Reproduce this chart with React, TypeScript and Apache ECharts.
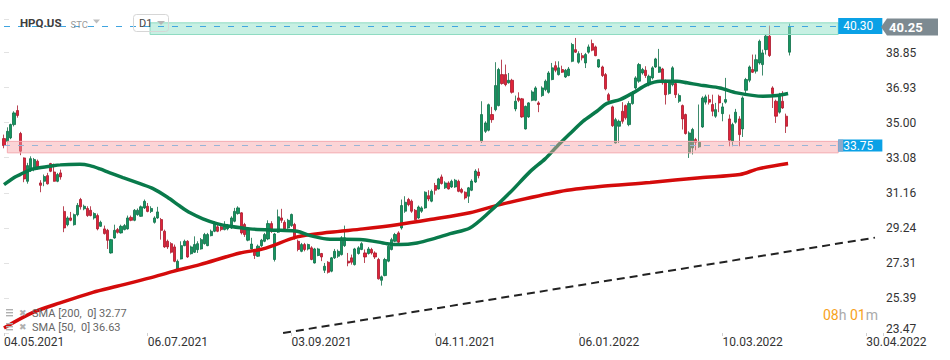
import React, { useEffect, useRef } from 'react';
import * as echarts from 'echarts';

// ---------- data ----------
const xTickLabels = ['04.05.2021', '06.07.2021', '03.09.2021', '04.11.2021', '06.01.2022', '10.03.2022', '30.04.2022'];
const yTickLabels = ['23.47', '25.39', '27.31', '29.24', '31.16', '33.08', '35.00', '36.93', '38.85'];

// daily candles: [open, close, low, high]
const candles: number[][] = [
  [34.13, 33.75, 33.6, 34.35], [33.98, 34.53, 33.9, 34.75], [34.17, 34.9, 34.1, 34.95], [34.9, 35.54, 34.8, 35.63],
  [35.67, 35.4, 35.28, 35.95], [34.41, 33.44, 33.22, 34.5], [33.07, 31.92, 31.74, 33.1], [31.79, 32.65, 31.66, 32.8],
  [32.43, 33.03, 32.3, 33.16], [32.49, 32.98, 32.34, 33.07], [32.89, 32.56, 32.43, 32.98], [31.7, 31.57, 31.19, 31.85],
  [31.79, 32.05, 31.52, 32.16], [32.1, 31.65, 31.61, 32.25], [32.76, 32.34, 32.29, 32.8], [32.3, 31.79, 31.77, 32.76],
  [31.79, 32.16, 31.74, 32.25], [32.25, 32.03, 31.88, 32.43], [30.14, 29.23, 29.0, 30.42], [29.41, 29.78, 29.32, 29.87],
  [29.78, 29.65, 29.6, 30.11], [29.41, 29.96, 29.36, 30.02], [29.96, 30.47, 29.87, 30.6], [30.79, 30.39, 30.24, 30.88],
  [30.28, 30.42, 30.2, 30.51], [30.3, 29.91, 29.84, 30.42], [30.2, 29.91, 29.87, 30.42], [29.78, 30.02, 29.69, 30.09],
  [29.91, 29.18, 29.1, 30.02], [29.32, 29.54, 29.29, 29.63], [29.18, 28.92, 28.87, 29.36], [29.1, 28.55, 28.08, 29.18],
  [27.86, 28.59, 27.82, 28.63], [28.68, 29.1, 28.64, 29.41], [29.14, 28.99, 28.92, 29.23], [28.96, 29.32, 28.92, 29.41],
  [29.14, 29.36, 29.1, 29.45], [29.18, 29.78, 29.14, 29.91], [29.81, 29.65, 29.6, 29.91], [29.65, 30.2, 29.6, 30.27],
  [29.96, 30.2, 29.9, 30.3], [29.87, 30.39, 29.84, 30.46], [30.33, 30.69, 30.27, 30.79], [30.42, 30.14, 30.09, 30.6],
  [30.14, 30.3, 30.05, 30.42], [29.54, 29.78, 29.47, 29.87], [29.78, 30.11, 29.73, 30.39], [29.69, 29.1, 28.59, 29.78],
  [29.05, 28.19, 28.14, 29.14], [28.5, 28.19, 28.08, 28.59], [28.37, 27.9, 27.83, 28.45], [28.19, 27.4, 27.35, 28.32],
  [26.98, 27.4, 26.95, 27.5], [27.53, 28.26, 27.5, 28.5], [28.26, 28.5, 28.23, 28.59], [28.5, 27.64, 27.59, 28.56],
  [27.82, 28.19, 27.77, 28.26], [27.9, 28.32, 27.86, 28.77], [28.04, 28.37, 27.86, 28.5], [28.08, 28.59, 28.04, 28.68],
  [28.37, 28.87, 28.32, 28.96], [28.26, 28.87, 28.23, 28.96], [28.81, 29.05, 28.77, 29.14], [29.05, 29.51, 29.0, 29.6],
  [29.29, 29.05, 29.0, 29.42], [29.29, 29.14, 29.05, 29.36], [29.14, 29.41, 29.1, 29.6], [29.18, 29.36, 29.1, 29.45],
  [29.23, 29.78, 29.18, 29.87], [29.6, 30.14, 29.54, 30.33], [30.02, 30.33, 29.96, 30.42], [30.06, 28.96, 28.87, 30.09],
  [29.42, 28.87, 28.74, 29.51], [28.56, 29.14, 28.5, 29.23], [28.08, 28.35, 28.05, 28.69], [27.9, 27.72, 27.53, 28.05],
  [27.68, 28.23, 27.64, 28.32], [28.26, 28.56, 28.19, 28.63], [28.5, 28.87, 28.45, 28.96], [28.63, 29.47, 28.56, 29.65],
  [29.47, 29.05, 28.96, 29.6], [27.5, 28.9, 27.39, 28.96], [29.0, 29.84, 28.96, 30.24], [29.78, 29.65, 29.51, 30.28],
  [29.54, 29.18, 29.1, 29.65], [29.23, 29.65, 29.18, 29.73], [29.36, 29.97, 29.29, 30.02], [29.42, 28.69, 28.59, 29.51],
  [28.5, 28.05, 27.95, 28.59], [27.95, 28.32, 27.9, 28.41], [28.32, 28.05, 27.95, 28.41], [28.08, 28.32, 28.0, 28.37],
  [28.14, 27.5, 27.46, 28.23], [27.31, 28.08, 27.28, 28.14], [27.72, 28.08, 27.68, 28.14], [27.83, 27.64, 27.41, 27.86],
  [26.91, 27.13, 26.76, 27.31], [27.35, 26.8, 26.73, 27.41], [26.86, 27.59, 26.8, 27.64], [27.59, 27.95, 27.53, 28.08],
  [27.68, 27.95, 27.59, 28.05], [27.77, 28.69, 27.72, 28.78], [28.26, 28.69, 28.19, 29.36], [27.41, 27.31, 27.13, 27.86],
  [27.59, 27.35, 27.22, 27.77], [27.22, 28.08, 27.17, 28.14], [27.83, 28.14, 27.77, 28.23], [28.05, 28.37, 28.01, 28.45],
  [27.86, 27.64, 27.31, 28.05], [27.83, 28.08, 27.77, 28.19], [28.05, 27.86, 27.77, 28.14], [27.86, 27.64, 27.53, 27.95],
  [27.5, 26.44, 26.4, 27.59], [26.36, 26.55, 26.07, 26.62], [26.62, 27.5, 26.58, 27.59], [27.41, 28.23, 27.35, 28.32],
  [28.05, 28.59, 28.0, 28.69], [28.5, 28.87, 28.45, 28.96], [28.96, 28.45, 28.37, 29.05], [29.23, 30.46, 29.14, 30.79],
  [30.15, 30.64, 30.06, 30.97], [30.79, 30.51, 30.42, 30.88], [30.7, 30.15, 30.06, 30.79], [30.2, 29.69, 29.65, 30.27],
  [29.78, 30.38, 29.73, 30.46], [30.15, 30.33, 30.06, 30.42], [30.33, 31.19, 30.28, 31.24], [31.0, 30.82, 30.7, 31.3],
  [30.7, 31.24, 30.64, 31.34], [31.56, 31.3, 31.06, 31.7], [31.37, 31.92, 31.34, 31.98], [32.03, 31.67, 31.61, 32.16],
  [31.43, 31.7, 31.37, 31.79], [31.7, 31.37, 31.34, 31.79], [31.48, 31.79, 31.43, 31.88], [31.48, 31.85, 31.43, 31.92],
  [31.79, 31.24, 31.19, 31.88], [31.34, 31.19, 31.12, 31.43], [31.19, 30.88, 30.79, 31.24], [30.97, 31.43, 30.6, 31.48],
  [31.3, 31.8, 31.25, 31.9], [31.75, 32.35, 31.7, 32.45], [32.3, 32.1, 31.95, 32.5], [33.99, 35.45, 33.89, 36.18],
  [34.53, 34.99, 34.44, 35.08], [34.59, 35.99, 34.53, 36.05], [35.45, 35.17, 35.0, 35.87], [35.72, 37.04, 35.63, 38.32],
  [35.94, 37.92, 35.9, 38.01], [37.64, 37.15, 37.09, 38.46], [37.64, 37.09, 37.0, 38.19], [37.19, 37.33, 37.15, 37.73],
  [37.33, 36.67, 36.6, 37.41], [35.76, 36.18, 35.63, 36.49], [36.36, 36.23, 36.13, 36.67], [36.31, 35.32, 35.27, 36.36],
  [34.66, 35.9, 34.63, 35.94], [35.32, 36.09, 35.27, 36.13], [36.23, 36.69, 36.18, 36.78], [36.23, 36.91, 36.18, 37.0],
  [36.09, 36.0, 35.58, 36.18], [36.49, 36.91, 36.42, 37.0], [36.82, 37.28, 36.73, 37.37], [36.67, 37.73, 36.6, 37.83],
  [37.37, 38.01, 37.33, 38.28], [38.13, 37.88, 37.77, 38.37], [37.64, 38.01, 37.59, 38.37], [37.92, 37.77, 37.73, 38.13],
  [37.51, 37.88, 37.46, 37.95], [37.59, 37.95, 37.55, 38.06], [38.37, 39.29, 38.32, 39.38], [39.01, 38.87, 38.83, 39.65],
  [38.32, 38.79, 38.24, 38.92], [38.68, 38.56, 38.42, 38.83], [38.28, 38.74, 38.0, 38.83], [38.87, 39.16, 38.79, 39.29],
  [39.34, 38.98, 38.92, 39.56], [39.16, 38.68, 38.65, 39.23], [38.06, 38.46, 38.01, 38.5], [38.06, 37.59, 37.51, 38.13],
  [37.64, 36.86, 36.78, 37.73], [36.54, 36.23, 36.09, 36.64], [35.87, 34.84, 34.77, 35.94], [33.89, 35.17, 33.86, 35.27],
  [34.81, 35.08, 33.89, 35.17], [35.63, 35.08, 34.95, 36.13], [35.94, 35.27, 35.17, 36.0], [34.9, 36.05, 34.81, 36.18],
  [36.05, 36.64, 35.99, 36.73], [36.91, 37.46, 36.82, 37.55], [37.28, 38.19, 37.19, 38.28], [37.73, 37.92, 37.64, 38.01],
  [37.88, 37.59, 37.46, 38.1], [37.09, 37.55, 37.0, 37.64], [37.46, 38.01, 37.37, 38.1], [38.06, 38.5, 38.01, 38.56],
  [37.77, 38.06, 37.73, 39.05], [37.95, 37.19, 37.09, 38.01], [37.19, 36.54, 36.0, 37.37], [36.6, 37.19, 36.54, 37.28],
  [37.09, 38.01, 37.0, 38.1], [37.15, 36.54, 36.36, 37.28], [36.18, 36.49, 36.09, 36.6], [35.94, 35.21, 34.63, 36.0],
  [35.45, 34.41, 34.35, 35.5], [33.35, 34.44, 33.07, 34.53], [33.62, 34.63, 33.26, 34.72], [34.08, 33.93, 33.49, 34.17],
  [33.68, 33.93, 33.62, 36.0], [34.77, 36.36, 34.72, 36.45], [36.13, 36.42, 36.0, 36.54], [36.27, 36.13, 36.0, 36.54],
  [36.0, 35.63, 35.36, 36.54], [35.36, 35.72, 35.27, 36.09], [36.45, 36.09, 35.58, 36.54], [35.5, 35.87, 35.08, 36.09],
  [36.13, 36.27, 36.05, 37.46], [35.21, 34.04, 33.71, 35.45], [33.99, 34.9, 33.71, 35.0], [35.03, 35.58, 34.95, 35.76],
  [35.21, 34.35, 33.71, 35.36], [34.66, 36.36, 34.22, 36.45], [36.78, 37.37, 36.49, 37.46], [37.33, 38.06, 37.22, 38.14],
  [37.92, 37.77, 37.73, 38.74], [37.83, 38.46, 37.7, 38.74], [38.28, 39.47, 38.19, 39.56], [38.19, 38.83, 37.59, 39.01],
  [39.01, 39.75, 38.74, 39.84], [39.75, 38.69, 38.61, 40.33], [36.91, 36.6, 35.81, 37.0], [36.18, 35.36, 34.99, 36.27],
  [35.58, 36.45, 35.5, 36.64], [36.18, 35.81, 35.76, 36.73], [35.36, 34.81, 34.44, 35.5], [38.87, 40.25, 38.69, 40.44],
];

// moving averages: [bar index, value]
const sma50: number[][] = [
  [0, 31.61], [3.3, 32.03], [4.8, 32.16], [8.7, 32.47], [13.8, 32.61], [16.8, 32.69], [22.7, 32.72], [25.7, 32.65],
  [28.7, 32.47], [31.7, 32.25], [35.6, 31.99], [40.7, 31.66], [44.6, 31.39], [48.8, 30.93], [52.7, 30.42], [55.7, 30.06],
  [59.5, 29.73], [63.7, 29.47], [67.6, 29.32], [73.6, 29.18], [82.6, 29.1], [87.7, 29.05], [91.6, 28.81], [96.6, 28.63],
  [107.4, 28.59], [114.6, 28.37], [118.5, 28.32], [123.6, 28.41], [128.4, 28.63], [133.5, 28.92], [139.4, 29.23],
  [145.4, 30.13], [151.4, 31.17], [157.4, 32.32], [161.9, 33.02], [165.5, 33.71], [169.4, 34.41], [173.2, 35.08],
  [177.4, 35.63], [180.3, 36.05], [184.3, 36.27], [188.2, 36.64], [192.4, 37.09], [196.3, 37.28], [201.4, 37.28],
  [204.4, 37.19], [209.2, 37.04], [214.2, 36.91], [219.3, 36.64], [227.1, 36.45], [231.3, 36.49], [234.6, 36.6],
];
const sma200: number[][] = [
  [0, 23.75], [8.7, 24.6], [16.8, 25.12], [26.6, 25.7], [33.8, 26.03], [43.7, 26.49], [50.6, 26.85], [58.6, 27.22],
  [70.6, 27.86], [77.5, 28.08], [87.7, 28.74], [97.5, 28.99], [107.4, 29.18], [117.6, 29.41], [127.5, 29.69],
  [139.4, 30.06], [148.4, 30.51], [166.4, 31.23], [178.3, 31.5], [193.3, 31.72], [208.3, 31.99], [220.2, 32.16],
  [225.6, 32.47], [234.6, 32.76],
];
const trendLine: number[][] = [[83.5, 23.47], [260.6, 28.7]];

const resistanceLevel = 40.3;
const resistanceBand = [39.84, 40.48];
const supportLevel = 33.75;
const supportBand = [33.35, 33.98];
const lastPrice = 40.25;
const legendTexts = ['SMA [200,\u00a0 0] 32.77', 'SMA [50,\u00a0 0] 36.63'];

// ---------- axis setup ----------
const Y_MIN = 23.47;
const Y_MAX = 40.69;
const Y_STEP = (38.85 - 23.47) / 8;
const X_STEP = 43;
const X_MAX = 263;
const LEVEL_START = 0;
const LEVEL_END = 249.6;
const RES_BAND_START = 43.7;
const SUP_BAND_START = 1.0;

export default function App() {
  const ref = useRef<HTMLDivElement>(null);

  useEffect(() => {
    if (!ref.current) return;
    const chart = echarts.init(ref.current, undefined, { renderer: 'svg' });
    const candleData = candles.map((c, i) => [i, c[0], c[1], c[2], c[3]]);

    const option: any = {
      animation: false,
      backgroundColor: '#ffffff',
      textStyle: { fontFamily: 'Roboto' },
      grid: { left: 4, right: 67, top: 19, bottom: 27 },
      xAxis: {
        type: 'value',
        min: 0,
        max: X_MAX,
        interval: X_STEP,
        axisLine: { show: false },
        axisTick: { show: true, length: 3, lineStyle: { color: '#cfcfcf' } },
        splitLine: { show: false },
        axisLabel: {
          align: 'left',
          margin: 3,
          color: '#333',
          fontSize: 12,
          formatter: (v: number) => {
            const k = v / X_STEP;
            const r = Math.round(k);
            if (Math.abs(k - r) > 0.01 || r < 0 || r >= xTickLabels.length) return '';
            return xTickLabels[r];
          },
        },
      },
      yAxis: {
        type: 'value',
        position: 'right',
        min: Y_MIN,
        max: Y_MAX,
        interval: Y_STEP,
        axisLine: { show: false },
        axisTick: { show: true, length: 5, lineStyle: { color: '#e2e2e2' } },
        splitLine: { show: false },
        axisLabel: {
          margin: 3,
          color: '#333',
          fontSize: 12,
          formatter: (v: number) => {
            const k = (v - Y_MIN) / Y_STEP;
            const r = Math.round(k);
            if (Math.abs(k - r) > 0.02 || r < 0 || r >= yTickLabels.length) return '';
            return r === 0 ? '{b|' + yTickLabels[0] + '}' : yTickLabels[r];
          },
          rich: { b: { color: '#333', fontSize: 12, padding: [0, 0, 8, 0] } },
        },
      },
      series: [
        {
          type: 'candlestick',
          data: candleData,
          barWidth: 2.6,
          z: 2,
          itemStyle: {
            color: '#149660',
            color0: '#e02338',
            borderColor: '#0c6d46',
            borderColor0: '#a8172b',
            borderWidth: 0.8,
          },
        },
        {
          type: 'line',
          name: 'SMA200',
          data: sma200,
          smooth: 0.3,
          symbol: 'none',
          z: 3,
          lineStyle: { color: '#d40b0b', width: 3.5 },
        },
        {
          type: 'line',
          name: 'SMA50',
          data: sma50,
          smooth: 0.3,
          symbol: 'none',
          z: 3,
          lineStyle: { color: '#097a4b', width: 3.5 },
        },
        {
          type: 'line',
          name: 'trend',
          data: trendLine,
          symbol: 'none',
          z: 3,
          lineStyle: { color: '#222', width: 2, type: [8, 5] },
          markArea: {
            silent: true,
            z: 4,
            label: { show: false },
            data: [
              [
                { coord: [RES_BAND_START, resistanceBand[0]], itemStyle: { color: 'rgba(143,225,199,0.5)', borderColor: '#8edbc2', borderWidth: 1 } },
                { coord: [LEVEL_END, resistanceBand[1]] },
              ],
              [
                { coord: [SUP_BAND_START, supportBand[0]], itemStyle: { color: 'rgba(246,159,164,0.45)', borderColor: '#f4aab0', borderWidth: 1 } },
                { coord: [LEVEL_END, supportBand[1]] },
              ],
            ],
          },
          markLine: {
            silent: true,
            z: 5,
            symbol: ['none', 'none'],
            data: [
              [
                {
                  coord: [LEVEL_START, resistanceLevel],
                  lineStyle: { color: '#3fa4e0', width: 1.2, type: [6, 8] },
                  label: {
                    show: true, position: 'end', distance: 0, formatter: resistanceLevel.toFixed(2),
                    color: '#fff', backgroundColor: '#0aa1e6', fontSize: 12, lineHeight: 13, padding: [2, 9, 1, 5],
                  },
                },
                { coord: [LEVEL_END, resistanceLevel] },
              ],
              [
                {
                  coord: [LEVEL_START, supportLevel],
                  lineStyle: { color: '#98b4d6', width: 1.2, type: [6, 8] },
                  label: {
                    show: true, position: 'end', distance: 0, formatter: '{a|}{b|' + supportLevel.toFixed(2) + '}',
                    backgroundColor: '#0aa1e6', padding: 0,
                    rich: {
                      a: { width: 5, height: 12, backgroundColor: '#8ea9ca' },
                      b: { color: '#fff', fontSize: 12, lineHeight: 12, padding: [0, 9, 0, 0] },
                    },
                  },
                },
                { coord: [LEVEL_END, supportLevel] },
              ],
            ],
          },
        },
      ],
    };

    chart.setOption(option);
    const py = chart.convertToPixel({ yAxisIndex: 0 }, lastPrice) as unknown as number;

    const legendRow = (y: number, text: string) => [
      { type: 'rect', z: 100, shape: { x: 6, y: y - 4, width: 7, height: 1.4 }, style: { fill: '#b0b0b0' } },
      { type: 'rect', z: 100, shape: { x: 6, y: y - 1, width: 7, height: 1.4 }, style: { fill: '#b0b0b0' } },
      { type: 'rect', z: 100, shape: { x: 6, y: y + 2, width: 7, height: 1.4 }, style: { fill: '#b0b0b0' } },
      { type: 'text', z: 100, x: 19, y, style: { text: '\u2716', fill: '#b0b0b0', font: '9px "DejaVu Sans"', verticalAlign: 'middle' } },
      { type: 'text', z: 100, x: 32, y, style: { text, fill: '#666', font: '11px Roboto', verticalAlign: 'middle' } },
    ];

    chart.setOption({
      graphic: [
        { type: 'text', z: 100, x: 20, y: 23, style: { text: 'HPQ.US', fill: '#3d3d3d', font: 'bold 11.5px Roboto', verticalAlign: 'middle' } },
        { type: 'text', z: 100, x: 70.5, y: 24.5, style: { text: 'STC', fill: '#9a9a9a', font: '9.5px Roboto', verticalAlign: 'middle' } },
        { type: 'polygon', z: 100, shape: { points: [[93, 19.5], [100, 19.5], [96.5, 23.5]] }, style: { fill: '#bdbdbd' } },
        { type: 'rect', z: 100, shape: { x: 133.5, y: 14.5, width: 35, height: 17, r: 3 }, style: { fill: 'none', stroke: '#d6d6d6', lineWidth: 1 } },
        { type: 'text', z: 100, x: 139, y: 23.5, style: { text: 'D1', fill: '#444', font: '11px Roboto', verticalAlign: 'middle' } },
        { type: 'polygon', z: 100, shape: { points: [[157, 21], [165, 21], [161, 25]] }, style: { fill: '#b5b5b5' } },
        { type: 'polygon', z: 100, shape: { points: [[881, py], [887, py - 8.5], [938, py - 8.5], [938, py + 8.5], [887, py + 8.5]] }, style: { fill: '#7d8a91' } },
        { type: 'text', z: 101, x: 889, y: py + 0.5, style: { text: lastPrice.toFixed(2), fill: '#fff', font: 'bold 13px Roboto', verticalAlign: 'middle' } },
        ...legendRow(313, legendTexts[0]),
        ...legendRow(327, legendTexts[1]),
        {
          type: 'text', z: 100, x: 823, y: 315,
          style: {
            text: '{o|08}{g|h} {o|01}{g|m}',
            verticalAlign: 'middle',
            font: '14px Roboto',
            rich: {
              o: { fill: '#f7a21b', font: '14px Roboto' },
              g: { fill: '#aaaaaa', font: '14px Roboto' },
            },
          },
        },
      ],
    });

    return () => chart.dispose();
  }, []);

  return (
    <div
      ref={ref}
      style={{ position: 'fixed', left: 0, top: 0, width: 950, height: 360, background: '#fff' }}
    />
  );
}
